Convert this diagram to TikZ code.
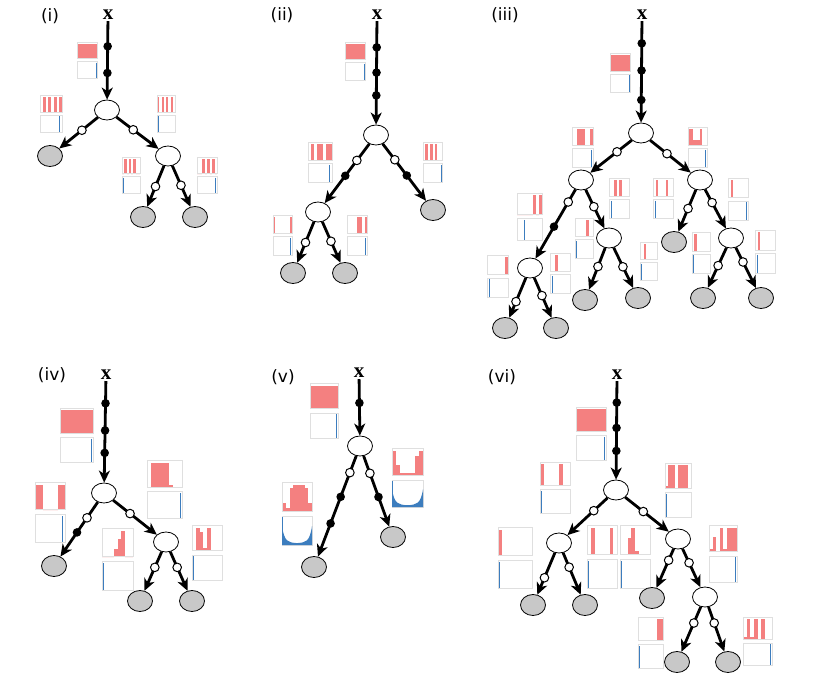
\documentclass[tikz,border=0pt]{standalone}
\usepackage{fontspec}
\setmainfont{Liberation Serif}
\newfontfamily\tagfont{DejaVu Sans}
\usepackage{tikz}
\usetikzlibrary{arrows.meta,shapes,positioning,calc}
\definecolor{histred}{RGB}{244,128,128}
\definecolor{histblue}{RGB}{60,125,190}
\definecolor{leafgray}{RGB}{200,200,200}

\tikzset{
  splitnode/.style={ellipse, draw, line width=0.8pt, fill=white, minimum width=25pt, minimum height=20pt, inner sep=0pt},
  leafnode/.style={ellipse, draw, line width=0.8pt, fill=leafgray, minimum width=25pt, minimum height=21pt, inner sep=0pt},
  branch/.style={line width=2.8pt, -{Stealth[length=12pt, width=11pt, inset=3.5pt]}},
  lbl/.style={font=\tagfont\fontsize{17}{17}\selectfont},
  xlbl/.style={font=\fontsize{21}{21}\selectfont\bfseries, inner sep=1pt},
  hframe/.style={draw=gray!25, line width=0.3pt}
}

% markers on a branch
\newcommand{\dotF}[3]{\fill ($(#1)!#3!(#2)$) circle (4.3pt);}
\newcommand{\dotO}[3]{\filldraw[fill=white, line width=1pt] ($(#1)!#3!(#2)$) circle (4.3pt);}

% small histogram: x, y, width, height, bars, blue line (<0 gives U shape)
\newcommand{\hgram}[6]{%
  \begin{scope}[shift={(#1,#2)}]
    \pgfmathsetmacro{\hw}{#3/8}
    \pgfmathsetmacro{\hb}{0.46*#4}
    \foreach \v [count=\k] in {#5}
      \fill[histred] ({(\k-1)*\hw},\hb) rectangle ({\k*\hw},{\hb*(1-0.9*\v)});
    \draw[hframe] (0,0) rectangle (#3,\hb);
    \draw[hframe] (0,{0.54*#4}) rectangle (#3,#4);
    \ifdim #6pt<0pt
      \fill[histblue] (0,#4) -- (0,{.7*#4}) .. controls ({.08*#3},{.95*#4}) and ({.2*#3},{.96*#4}) .. ({.5*#3},{.97*#4})
        .. controls ({.8*#3},{.96*#4}) and ({.92*#3},{.95*#4}) .. (#3,{.7*#4}) -- (#3,#4) -- cycle;
      \draw[histblue, line width=0.6pt] (0,{.56*#4}) -- (0,#4);
    \else
      \draw[histblue, line width=0.8pt] ({#6*#3},{0.57*#4}) -- ({#6*#3},#4);
    \fi
  \end{scope}}

\begin{document}
\begin{tikzpicture}[x=1pt, y=-1pt]
  \useasboundingbox (0,0) rectangle (813,676);

  % (i)
  \hgram{77}{42}{20}{36}{1,1,1,1,1,1,1,1}{.95}
  \hgram{40}{95}{22}{37}{0,1,0,1,0,1,0,1}{.9}
  \hgram{157}{95}{18}{37}{1,0,1,0,1,0,1,0}{.05}
  \hgram{122}{157}{18}{36}{0,1,0,1,0,1,0,0}{.1}
  \hgram{197}{157}{20}{36}{0,0,1,0,1,0,1,0}{.9}
  \node[lbl] (tag1) at (50,16) {(i)};
  \node[xlbl] (x1) at (108,15) {x};
  \node[splitnode] (r1) at (107,110) {};
  \node[leafnode] (l1a) at (50,156) {};
  \node[splitnode] (n1b) at (168,156) {};
  \node[leafnode] (l1c) at (143,217) {};
  \node[leafnode] (l1d) at (195,217) {};
  \draw[branch] (x1) -- (r1);
  \draw[branch] (r1) -- (l1a);
  \draw[branch] (r1) -- (n1b);
  \draw[branch] (n1b) -- (l1c);
  \draw[branch] (n1b) -- (l1d);
  \dotF{x1}{r1}{.33} \dotF{x1}{r1}{.61}
  \dotO{r1}{l1a}{.44} \dotO{r1}{n1b}{.43}
  \dotO{n1b}{l1c}{.5} \dotO{n1b}{l1d}{.48}

  % (ii)
  \hgram{345}{42}{20}{38}{1,1,1,1,1,1,1,1}{.95}
  \hgram{308}{142}{24}{40}{0,1,0,1,1,0,1,1}{.9}
  \hgram{423}{142}{19}{40}{0,1,0,1,0,1,0,0}{.95}
  \hgram{273}{215}{19}{40}{1,0,0,0,0,0,0,1}{.9}
  \hgram{347}{215}{20}{40}{0,0,0,0,1,1,0,1}{.9}
  \node[lbl] (tag2) at (282,15) {(ii)};
  \node[xlbl] (x2) at (377,15) {x};
  \node[splitnode] (r2) at (376,135) {};
  \node[splitnode] (n2a) at (318,212) {};
  \node[leafnode] (l2b) at (433,210) {};
  \node[leafnode] (l2c) at (293,273) {};
  \node[leafnode] (l2d) at (345,273) {};
  \draw[branch] (x2) -- (r2);
  \draw[branch] (r2) -- (n2a);
  \draw[branch] (r2) -- (l2b);
  \draw[branch] (n2a) -- (l2c);
  \draw[branch] (n2a) -- (l2d);
  \dotF{x2}{r2}{.27} \dotF{x2}{r2}{.48} \dotF{x2}{r2}{.67}
  \dotO{r2}{n2a}{.33} \dotF{r2}{n2a}{.53}
  \dotO{r2}{l2b}{.33} \dotF{r2}{l2b}{.54}
  \dotO{n2a}{l2c}{.5} \dotO{n2a}{l2d}{.48}

  % (iii)
  \hgram{610}{53}{20}{39}{1,1,1,1,1,1,1,1}{.95}
  \hgram{572}{127}{21}{40}{0,0,1,1,1,0,0,1}{.9}
  \hgram{688}{127}{19}{40}{1,1,.3,.3,.3,1,0,0}{.9}
  \hgram{517}{193}{25}{47}{0,0,0,0,0,1,0,1}{.3}
  \hgram{609}{178}{20}{40}{0,0,1,0,1,0,0,0}{.1}
  \hgram{653}{178}{20}{40}{0,1,0,0,0,1,0,0}{.1}
  \hgram{728}{178}{20}{42}{0,1,0,0,0,0,0,0}{.9}
  \hgram{575}{218}{18}{40}{0,0,0,0,0,1,0,0}{.1}
  \hgram{640}{242}{17}{38}{0,0,1,0,0,0,0,0}{.1}
  \hgram{692}{232}{18}{41}{0,1,0,0,0,0,0,0}{.1}
  \hgram{755}{230}{20}{43}{0,1,0,0,0,0,0,0}{.1}
  \hgram{487}{255}{21}{42}{0,0,0,0,0,0,0,1}{.1}
  \hgram{550}{253}{20}{40}{0,0,1,0,0,0,0,0}{.1}
  \node[lbl] (tag3) at (505,15) {(iii)};
  \node[xlbl] (x3) at (642,15) {x};
  \node[splitnode] (r3) at (641,133) {};
  \node[splitnode] (n3a) at (581,180) {};
  \node[splitnode] (n3b) at (700,180) {};
  \node[splitnode] (n3c) at (530,268) {};
  \node[splitnode] (n3d) at (609,238) {};
  \node[leafnode] (l3e) at (674,242) {};
  \node[splitnode] (n3f) at (731,238) {};
  \node[leafnode] (l3g) at (585,300) {};
  \node[leafnode] (l3h) at (638,298) {};
  \node[leafnode] (l3i) at (703,298) {};
  \node[leafnode] (l3j) at (761,298) {};
  \node[leafnode] (l3k) at (505,328) {};
  \node[leafnode] (l3l) at (556,328) {};
  \draw[branch] (x3) -- (r3);
  \draw[branch] (r3) -- (n3a);
  \draw[branch] (r3) -- (n3b);
  \draw[branch] (n3a) -- (n3c);
  \draw[branch] (n3a) -- (n3d);
  \draw[branch] (n3b) -- (l3e);
  \draw[branch] (n3b) -- (n3f);
  \draw[branch] (n3d) -- (l3g);
  \draw[branch] (n3d) -- (l3h);
  \draw[branch] (n3f) -- (l3i);
  \draw[branch] (n3f) -- (l3j);
  \draw[branch] (n3c) -- (l3k);
  \draw[branch] (n3c) -- (l3l);
  \dotF{x3}{r3}{.24} \dotF{x3}{r3}{.47} \dotF{x3}{r3}{.72}
  \dotO{r3}{n3a}{.4} \dotO{r3}{n3b}{.44}
  \dotO{n3a}{n3c}{.25} \dotF{n3a}{n3c}{.53}
  \dotO{n3a}{n3d}{.46}
  \dotO{n3b}{l3e}{.46} \dotO{n3b}{n3f}{.39}
  \dotO{n3d}{l3g}{.46} \dotO{n3d}{l3h}{.48}
  \dotO{n3f}{l3i}{.46} \dotO{n3f}{l3j}{.4}
  \dotO{n3c}{l3k}{.56} \dotO{n3c}{l3l}{.46}

  % (iv)
  \hgram{60}{408}{33}{54}{1,1,1,1,1,1,1,1}{.95}
  \hgram{35}{482}{30}{60}{1,1,0,0,0,0,1,1}{.9}
  \hgram{147}{460}{35}{58}{0,1,1,1,1,.05,0,0}{.95}
  \hgram{102}{528}{31}{62}{0,0,0,.3,.7,1,0,0}{.05}
  \hgram{192}{525}{30}{55}{0,1,.8,.1,1,0,0,0}{.05}
  \node[lbl] (tag4) at (52,375) {(iv)};
  \node[xlbl] (x4) at (106,375) {x};
  \node[splitnode] (r4) at (104,493) {};
  \node[leafnode] (l4a) at (54,566) {};
  \node[splitnode] (n4b) at (166,542) {};
  \node[leafnode] (l4c) at (140,601) {};
  \node[leafnode] (l4d) at (192,601) {};
  \draw[branch] (x4) -- (r4);
  \draw[branch] (r4) -- (l4a);
  \draw[branch] (r4) -- (n4b);
  \draw[branch] (n4b) -- (l4c);
  \draw[branch] (n4b) -- (l4d);
  \dotF{x4}{r4}{.24} \dotF{x4}{r4}{.47} \dotF{x4}{r4}{.66}
  \dotO{r4}{l4a}{.34} \dotF{r4}{l4a}{.54}
  \dotO{r4}{n4b}{.42}
  \dotO{n4b}{l4c}{.43} \dotO{n4b}{l4d}{.43}

  % (v)
  \hgram{310}{383}{28}{55}{1,1,1,1,1,1,1,1}{.95}
  \hgram{392}{448}{31}{59}{1,.4,.1,.1,.1,.1,.8,1}{-1}
  \hgram{282}{482}{30}{63}{.3,.1,.9,1,1,1,.9,.3}{-1}
  \node[lbl] (tag5) at (283,377) {(v)};
  \node[xlbl] (x5) at (359,373) {x};
  \node[splitnode] (r5) at (360,446) {};
  \node[leafnode] (l5a) at (314,567) {};
  \node[leafnode] (l5b) at (393,537) {};
  \draw[branch] (x5) -- (r5);
  \draw[branch] (r5) -- (l5a);
  \draw[branch] (r5) -- (l5b);
  \dotF{x5}{r5}{.41}
  \dotO{r5}{l5a}{.22} \dotF{r5}{l5a}{.42} \dotF{r5}{l5a}{.64}
  \dotO{r5}{l5b}{.3} \dotF{r5}{l5b}{.56}

  % (vi)
  \hgram{576}{407}{30}{53}{1,1,1,1,1,1,1,1}{.95}
  \hgram{540}{462}{30}{51}{1,0,0,0,0,1,0,0}{.05}
  \hgram{665}{463}{26}{54}{.1,1,1,0,1,1,1,0}{.05}
  \hgram{498}{527}{34}{61}{1,0,0,0,0,0,0,0}{.05}
  \hgram{587}{525}{30}{63}{0,1,0,0,0,0,1,0}{.05}
  \hgram{620}{525}{30}{63}{0,0,.6,1,.1,0,0,0}{.05}
  \hgram{709}{525}{28}{57}{.1,.6,0,1,.1,1,1,1}{.95}
  \hgram{638}{617}{25}{51}{0,0,0,0,0,0,1,1}{.05}
  \hgram{743}{617}{29}{48}{.1,1,.1,1,0,1,0,0}{.95}
  \node[lbl] (tag6) at (502,377) {(vi)};
  \node[xlbl] (x6) at (617,375) {x};
  \node[splitnode] (r6) at (616,490) {};
  \node[splitnode] (n6a) at (559,543) {};
  \node[splitnode] (n6b) at (678,539) {};
  \node[leafnode] (l6c) at (533,605) {};
  \node[leafnode] (l6d) at (585,605) {};
  \node[leafnode] (l6e) at (652,598) {};
  \node[splitnode] (n6f) at (705,597) {};
  \node[leafnode] (l6g) at (677,662) {};
  \node[leafnode] (l6h) at (728,662) {};
  \draw[branch] (x6) -- (r6);
  \draw[branch] (r6) -- (n6a);
  \draw[branch] (r6) -- (n6b);
  \draw[branch] (n6a) -- (l6c);
  \draw[branch] (n6a) -- (l6d);
  \draw[branch] (n6b) -- (l6e);
  \draw[branch] (n6b) -- (n6f);
  \draw[branch] (n6f) -- (l6g);
  \draw[branch] (n6f) -- (l6h);
  \dotF{x6}{r6}{.24} \dotF{x6}{r6}{.46} \dotF{x6}{r6}{.66}
  \dotO{r6}{n6a}{.39} \dotO{r6}{n6b}{.44}
  \dotO{n6a}{l6c}{.56} \dotO{n6a}{l6d}{.39}
  \dotO{n6b}{l6e}{.36} \dotO{n6b}{n6f}{.41}
  \dotO{n6f}{l6g}{.4} \dotO{n6f}{l6h}{.4}
\end{tikzpicture}
\end{document}
